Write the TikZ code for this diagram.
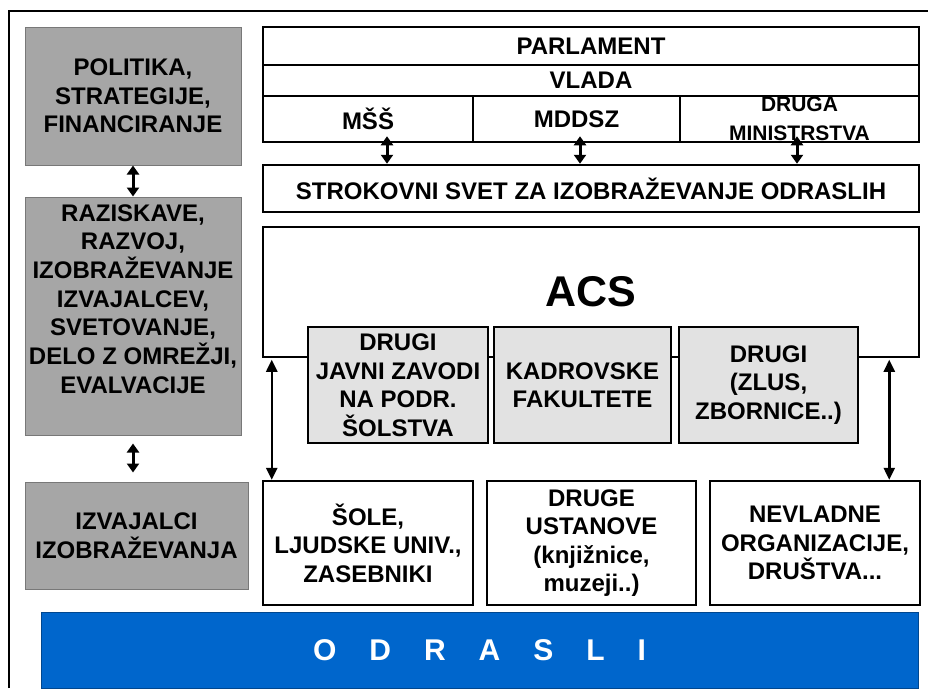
\documentclass[tikz,border=0pt]{standalone}
\usepackage{fontspec}
\setmainfont{Liberation Sans}
\usetikzlibrary{arrows.meta}
\definecolor{grayfill}{RGB}{166,166,166}
\definecolor{grayline}{RGB}{120,120,120}
\definecolor{subfill}{RGB}{226,226,226}
\definecolor{odrblue}{RGB}{0,102,204}
\tikzset{
  box/.style={draw=black, line width=2.5pt, fill=white, inner sep=0pt, align=center,
    font=\bfseries\fontsize{24}{28.5}\selectfont},
  graybox/.style={box, draw=grayline, line width=1pt, fill=grayfill},
  subbox/.style={box, fill=subfill},
  txt/.style={inner sep=0pt, align=center, font=\bfseries\fontsize{24}{28.7}\selectfont},
  dbl/.style={{Triangle[width=12pt,length=9pt]}-{Triangle[width=12pt,length=9pt]}, line width=3pt},
  dbllong/.style={{Triangle[width=11pt,length=12pt]}-{Triangle[width=11pt,length=12pt]}, line width=2.5pt}
}
\begin{document}
\begin{tikzpicture}[x=1pt,y=-1pt]
\useasboundingbox (0,0) rectangle (928,688);
% outer frame
\draw[line width=2pt] (9,688) -- (9,11) -- (928,11);

% left column
\node[graybox, minimum width=216pt, minimum height=138pt] (pol) at (133,96)
  {POLITIKA,\\STRATEGIJE,\\FINANCIRANJE};
\node[graybox, minimum width=216pt, minimum height=238pt] (raz) at (133,316) {};
\node[txt] (raztext) at (133,299)
  {RAZISKAVE,\\RAZVOJ,\\IZOBRAŽEVANJE\\IZVAJALCEV,\\SVETOVANJE,\\DELO Z OMREŽJI,\\EVALVACIJE};
\node[graybox, minimum width=223pt, minimum height=107pt] (izv) at (136.5,535.5)
  {IZVAJALCI\\IZOBRAŽEVANJA};
\draw[dbl] (pol.south) -- (raz.north);
\draw[dbl, shorten <=8pt, shorten >=9pt] (raz.south) -- (raz.south |- izv.north);

% top structure
\node[box, minimum width=656pt, minimum height=38pt] (parl) at (591,46) {PARLAMENT};
\node[box, minimum width=656pt, minimum height=31pt] (vlada) at (591,80.5) {VLADA};
\node[box, minimum width=210pt, minimum height=46pt] (mss) at (368,119) {MŠŠ};
\node[box, minimum width=207pt, minimum height=46pt] (mddsz) at (576.5,119) {MDDSZ};
\node[box, minimum width=239pt, minimum height=46pt,
  font=\bfseries\fontsize{21}{29.5}\selectfont] (druga) at (799.5,119) {DRUGA\\MINISTRSTVA};
\node[box, minimum width=656pt, minimum height=47pt] (strok) at (591,188.5)
  {STROKOVNI SVET ZA IZOBRAŽEVANJE ODRASLIH};
\coordinate (m1) at ([xshift=19pt,yshift=7pt]mss.south);
\coordinate (m2) at ([xshift=3.5pt,yshift=7pt]mddsz.south);
\coordinate (m3) at ([xshift=-2.5pt,yshift=7pt]druga.south);
\draw[dbl] (m1) -- (m1 |- strok.north);
\draw[dbl] (m2) -- (m2 |- strok.north);
\draw[dbl] (m3) -- (m3 |- strok.north);

% ACS
\node[box, minimum width=656pt, minimum height=130pt,
  font=\bfseries\fontsize{43}{50}\selectfont] (acs) at (591,292) {ACS};
\node[subbox, minimum width=180pt, minimum height=116pt] (suba) at (398,385)
  {DRUGI\\JAVNI ZAVODI\\NA PODR.\\ŠOLSTVA};
\node[subbox, minimum width=177pt, minimum height=116pt] (subb) at (582.5,385)
  {KADROVSKE\\FAKULTETE};
\node[subbox, minimum width=179pt, minimum height=116pt] (subc) at (768.5,385)
  {DRUGI\\(ZLUS,\\ZBORNICE..)};

% bottom row
\node[box, minimum width=210pt, minimum height=124pt] (sch) at (368,543)
  {ŠOLE,\\LJUDSKE UNIV.,\\ZASEBNIKI};
\node[box, minimum width=209pt, minimum height=124pt] (drl) at (591.5,543)
  {DRUGE\\USTANOVE\\(knjižnice,\\muzeji..)};
\node[box, minimum width=210pt, minimum height=124pt] (ngo) at (815,543)
  {NEVLADNE\\ORGANIZACIJE,\\DRUŠTVA...};
\coordinate (la) at ([xshift=10pt,yshift=-1.5pt]acs.south west);
\coordinate (ra) at ([xshift=-31pt,yshift=-1.5pt]acs.south east);
\draw[dbllong] (la) -- (la |- sch.north);
\draw[dbllong] (ra) -- (ra |- ngo.north);

% ODRASLI bar
\node[draw=odrblue!70!black, line width=0.8pt, fill=odrblue, inner sep=0pt,
  minimum width=877pt, minimum height=76pt, text=white,
  font=\bfseries\fontsize{30}{36}\selectfont] (odr) at (479.5,650)
  {O\hspace{33pt}D\hspace{33pt}R\hspace{33pt}A\hspace{33pt}S\hspace{33pt}L\hspace{33pt}I};
\end{tikzpicture}
\end{document}
